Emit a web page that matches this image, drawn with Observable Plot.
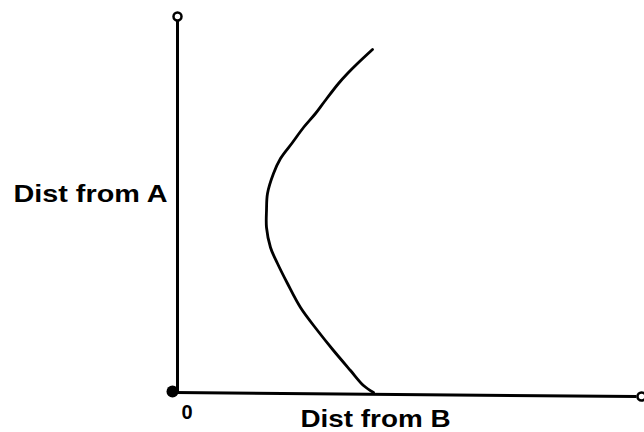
<!DOCTYPE html>
<html>
<head>
<meta charset="utf-8">
<script src="https://cdn.jsdelivr.net/npm/d3@7"></script>
<script src="https://cdn.jsdelivr.net/npm/@observablehq/plot@0.6"></script>
<style>
  html, body { margin: 0; padding: 0; background: #fff; }
  svg { overflow: visible; }
</style>
</head>
<body>
<div id="chart"></div>
<script>
// Curve: distance from B (x) vs distance from A (y)
const distB = [195, 180, 170, 161, 147, 138, 126, 115, 103, 96, 90, 89, 89, 93, 100, 110, 123, 140, 156, 173, 186, 196];
const distA = [343, 329, 319, 309, 291, 279, 265, 250, 234, 219, 199, 182, 165, 145, 129, 109, 85, 62, 42, 22, 7, 0];

const xAxisLabel = "Dist from B";
const yAxisLabel = "Dist from A";
const originLabel = "0";

const curve = distB.map((x, i) => ({x, y: distA[i]}));

const chart = Plot.plot({
  width: 644,
  height: 432,
  marginLeft: 177,
  marginRight: 3,
  marginTop: 16,
  marginBottom: 40,
  x: {domain: [0, 464], axis: null},
  y: {domain: [0, 376], axis: null},
  marks: [
    // vertical axis
    Plot.link([{x1: 0, y1: 0, x2: 0, y2: 372}], {x1: "x1", y1: "y1", x2: "x2", y2: "y2", stroke: "black", strokeWidth: 3}),
    Plot.dot([{x: 0, y: 376}], {x: "x", y: "y", r: 4, stroke: "black", strokeWidth: 2.5, fill: "white"}),
    // horizontal axis
    Plot.link([{x1: -3, y1: 0, x2: 459, y2: -4}], {x1: "x1", y1: "y1", x2: "x2", y2: "y2", stroke: "black", strokeWidth: 3}),
    Plot.dot([{x: 464, y: -4}], {x: "x", y: "y", r: 4, stroke: "black", strokeWidth: 2.5, fill: "white"}),
    // origin dot
    Plot.dot([{x: -5, y: 1}], {x: "x", y: "y", r: 6, fill: "black"}),
    // curve
    Plot.line(curve, {x: "x", y: "y", stroke: "black", strokeWidth: 2.8, curve: "catmull-rom"}),
    // labels
    Plot.text([{x: -10, y: 198, t: yAxisLabel}], {x: "x", y: "y", text: "t", textAnchor: "end", fontSize: 24, fontWeight: "bold", fill: "black", className: "lblA"}),
    Plot.text([{x: 198, y: -27, t: xAxisLabel}], {x: "x", y: "y", text: "t", fontSize: 24, fontWeight: "bold", fill: "black", className: "lblB"}),
    Plot.text([{x: 9.5, y: -20, t: originLabel}], {x: "x", y: "y", text: "t", fontSize: 20, fontWeight: "bold", fill: "black"})
  ],
  style: {fontFamily: "Liberation Sans, Arial, sans-serif", background: "white", overflow: "visible"}
});
document.getElementById("chart").appendChild(chart);
d3.select(chart).selectAll(".lblA text").attr("textLength", 154).attr("lengthAdjust", "spacingAndGlyphs");
d3.select(chart).selectAll(".lblB text").attr("textLength", 150).attr("lengthAdjust", "spacingAndGlyphs");
</script>
</body>
</html>
